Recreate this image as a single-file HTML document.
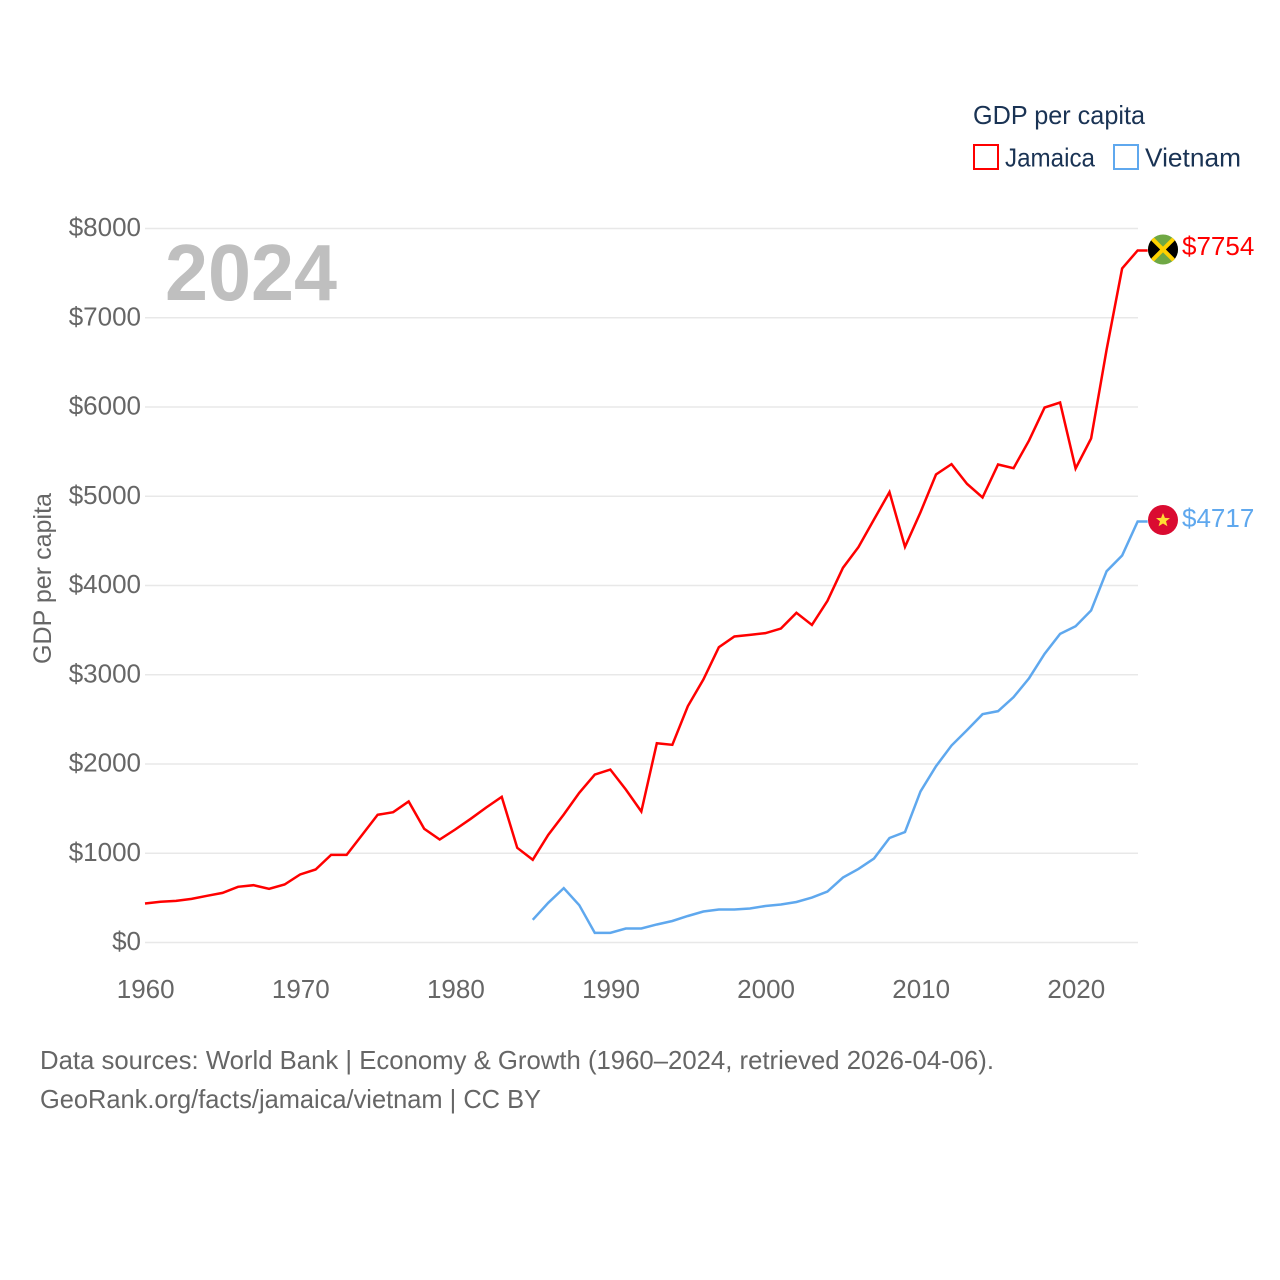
<!DOCTYPE html>
<html lang="en">
<head>
<meta charset="utf-8">
<title>GDP per capita: Jamaica and Vietnam</title>
<style>
html,body{margin:0;padding:0;background:#fff;}
svg{display:block;font-family:"Liberation Sans",sans-serif;}
</style>
</head>
<body>
<svg id="chart" width="1280" height="1280" viewBox="0 0 1280 1280" xmlns="http://www.w3.org/2000/svg">
  <rect x="0" y="0" width="1280" height="1280" fill="#ffffff"/>
  <g id="grid"></g>
  <g id="yticks"></g>
  <g id="xticks"></g>
  <text x="165" y="300" font-size="80" font-weight="700" fill="#bfbfbf" textLength="172" lengthAdjust="spacingAndGlyphs">2024</text>
  <text transform="translate(51,664) rotate(-90)" x="0" y="0" font-size="25" fill="#666666" textLength="171" lengthAdjust="spacingAndGlyphs">GDP per capita</text>
  <g id="series"></g>

  <g id="jamaica-flag">
    <clipPath id="jm-clip"><circle cx="1163" cy="249.5" r="15"/></clipPath>
    <g clip-path="url(#jm-clip)">
      <rect x="1148" y="234.5" width="30" height="30" fill="#6fa844"/>
      <polygon points="1148,234.5 1163,249.5 1148,264.5" fill="#000000"/>
      <polygon points="1178,234.5 1163,249.5 1178,264.5" fill="#000000"/>
      <line x1="1148" y1="234.5" x2="1178" y2="264.5" stroke="#fed100" stroke-width="4"/>
      <line x1="1178" y1="234.5" x2="1148" y2="264.5" stroke="#fed100" stroke-width="4"/>
    </g>
  </g>
  <g id="vietnam-flag">
    <circle cx="1163" cy="520" r="15" fill="#da0b31"/>
    <polygon points="1163,513 1164.9,517.9 1170,518.1 1166,521.3 1167.4,526.3 1163,523.5 1158.6,526.3 1160,521.3 1156,518.1 1161.1,517.9" fill="#ffdd33"/>
  </g>
  <g id="end-labels"></g>

  <g>
    <text x="973" y="124" font-size="26" fill="#1a3354" textLength="172" lengthAdjust="spacingAndGlyphs">GDP per capita</text>
    <g>
      <rect x="974" y="145" width="24" height="24" fill="#ffffff" stroke="#ff0000" stroke-width="2"/>
      <text x="1005" y="166.5" font-size="26" fill="#1a3354" textLength="90" lengthAdjust="spacingAndGlyphs">Jamaica</text>
    </g>
    <g>
      <rect x="1114" y="145" width="24" height="24" fill="#ffffff" stroke="#5fa8ee" stroke-width="2"/>
      <text x="1145" y="166.5" font-size="26" fill="#1a3354" textLength="96" lengthAdjust="spacingAndGlyphs">Vietnam</text>
    </g>
  </g>

  <text x="40" y="1069" font-size="26" fill="#666666" textLength="954" lengthAdjust="spacingAndGlyphs">Data sources: World Bank | Economy &amp; Growth (1960–2024, retrieved 2026-04-06).</text>
  <text x="40" y="1108" font-size="26" fill="#666666" textLength="501" lengthAdjust="spacingAndGlyphs">GeoRank.org/facts/jamaica/vietnam | CC BY</text>
</svg>

<script>
const yTicks = [0, 1000, 2000, 3000, 4000, 5000, 6000, 7000, 8000];
const xTicks = [1960, 1970, 1980, 1990, 2000, 2010, 2020];
const jamaicaStartYear = 1960;
const jamaicaValues = [
  437, 457, 467, 489, 523, 556, 624, 642, 601, 650,
  762, 818, 982, 982, 1206, 1431, 1460, 1580, 1274, 1154,
  1266, 1386, 1513, 1632, 1061, 927, 1206, 1434, 1677, 1882,
  1938, 1714, 1468, 2233, 2215, 2648, 2947, 3309, 3429, 3447,
  3466, 3518, 3694, 3558, 3827, 4198, 4430, 4739, 5046, 4433,
  4821, 5244, 5360, 5139, 4986, 5356, 5314, 5625, 5994, 6050,
  5311, 5647, 6644, 7552, 7754
];
const vietnamStartYear = 1985;
const vietnamValues = [
  254, 445, 609, 418, 108, 108, 157, 157, 202, 241,
  297, 347, 370, 370, 381, 409, 426, 454, 504, 571,
  728, 824, 941, 1171, 1238, 1692, 1975, 2207, 2379, 2558,
  2592, 2749, 2961, 3234, 3458, 3544, 3720, 4160, 4336, 4717
];

const NS = 'http://www.w3.org/2000/svg';
const xScale = year => 145 + (year - 1960) * 15.51;
const yScale = value => 942.5 - value * 0.08925;
const GRID_RIGHT = 1138;

function make(tag, attrs, parent, text) {
  const el = document.createElementNS(NS, tag);
  for (const k in attrs) el.setAttribute(k, attrs[k]);
  if (text !== undefined) el.textContent = text;
  parent.appendChild(el);
  return el;
}

const gridGroup = document.getElementById('grid');
const yTickGroup = document.getElementById('yticks');
yTicks.forEach(v => {
  const line = make('line', {x1: 145, x2: GRID_RIGHT, y1: yScale(v), y2: yScale(v), stroke: '#e8e8e8', 'stroke-width': 1.5}, gridGroup);
  
  
  const label = make('text', {x: 141, y: yScale(v) + 7.5, 'text-anchor': 'end', 'font-size': 26, fill: '#666666'}, yTickGroup, '$' + v);
  
  
});

const xTickGroup = document.getElementById('xticks');
xTicks.forEach(y => {
  const label = make('text', {x: xScale(y) + 0.7, y: 998, 'text-anchor': 'middle', 'font-size': 26, fill: '#666666'}, xTickGroup, String(y));
  
  
});

function linePoints(startYear, values) {
  const pts = values.map((v, i) => xScale(startYear + i).toFixed(2) + ',' + yScale(v).toFixed(2));
  const lastV = values[values.length - 1];
  pts.push((xScale(startYear + values.length - 1) + 10).toFixed(2) + ',' + yScale(lastV).toFixed(2));
  return pts.join(' ');
}

const seriesGroup = document.getElementById('series');
const jamaicaLine = make('polyline', {points: linePoints(jamaicaStartYear, jamaicaValues), fill: 'none', stroke: '#ff0000', 'stroke-width': 2.5, 'stroke-linejoin': 'miter'}, seriesGroup);


const vietnamLine = make('polyline', {points: linePoints(vietnamStartYear, vietnamValues), fill: 'none', stroke: '#5fa8ee', 'stroke-width': 2.5, 'stroke-linejoin': 'miter'}, seriesGroup);



const endGroup = document.getElementById('end-labels');
const jamaicaLast = jamaicaValues[jamaicaValues.length - 1];
const vietnamLast = vietnamValues[vietnamValues.length - 1];
const jamaicaLabel = make('text', {x: 1182, y: yScale(jamaicaLast) + 4.5, 'font-size': 26, fill: '#ff0000'}, endGroup, '$' + jamaicaLast);


const vietnamLabel = make('text', {x: 1182, y: yScale(vietnamLast) + 5.5, 'font-size': 26, fill: '#5fa8ee'}, endGroup, '$' + vietnamLast);


</script>
</body>
</html>
